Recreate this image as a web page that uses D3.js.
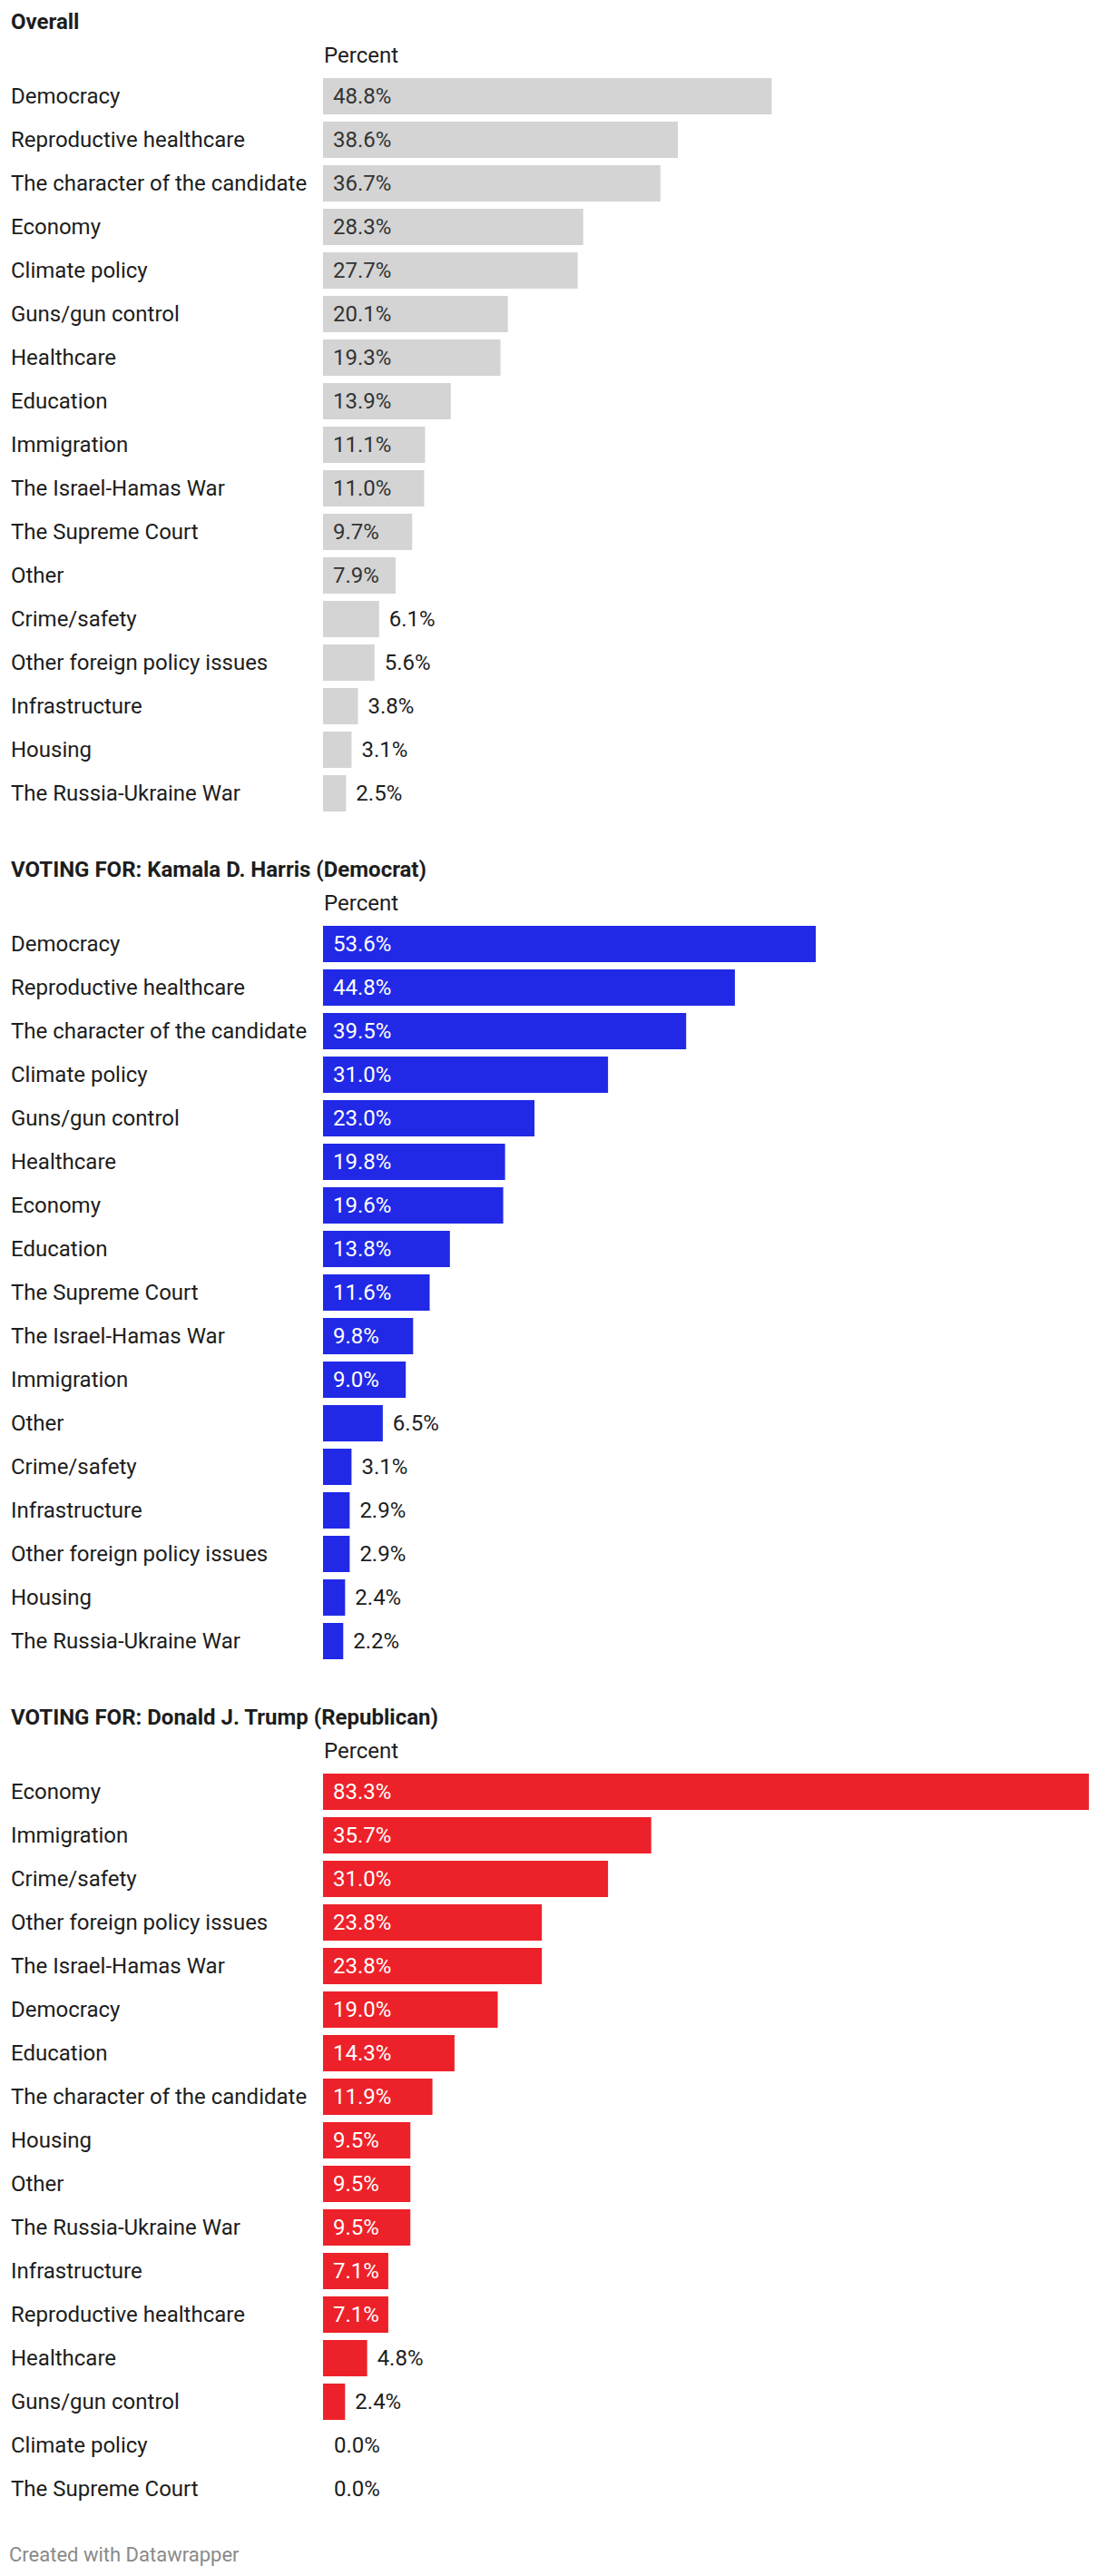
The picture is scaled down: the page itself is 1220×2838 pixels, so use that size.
<!DOCTYPE html>
<html>
<head>
<meta charset="utf-8">
<script src="https://cdn.jsdelivr.net/npm/d3@7"></script>
<style>
  body { margin: 0; background: #fff; }
  svg text { font-family: Roboto, "Noto Sans", sans-serif; }
</style>
</head>
<body>
<svg id="chart" width="1220" height="2838"></svg>
<script>
// ---- Data ----
const overallCategories = ["Democracy","Reproductive healthcare","The character of the candidate","Economy","Climate policy","Guns/gun control","Healthcare","Education","Immigration","The Israel-Hamas War","The Supreme Court","Other","Crime/safety","Other foreign policy issues","Infrastructure","Housing","The Russia-Ukraine War"];
const overallValues = [48.8,38.6,36.7,28.3,27.7,20.1,19.3,13.9,11.1,11.0,9.7,7.9,6.1,5.6,3.8,3.1,2.5];

const harrisCategories = ["Democracy","Reproductive healthcare","The character of the candidate","Climate policy","Guns/gun control","Healthcare","Economy","Education","The Supreme Court","The Israel-Hamas War","Immigration","Other","Crime/safety","Infrastructure","Other foreign policy issues","Housing","The Russia-Ukraine War"];
const harrisValues = [53.6,44.8,39.5,31.0,23.0,19.8,19.6,13.8,11.6,9.8,9.0,6.5,3.1,2.9,2.9,2.4,2.2];

const trumpCategories = ["Economy","Immigration","Crime/safety","Other foreign policy issues","The Israel-Hamas War","Democracy","Education","The character of the candidate","Housing","Other","The Russia-Ukraine War","Infrastructure","Reproductive healthcare","Healthcare","Guns/gun control","Climate policy","The Supreme Court"];
const trumpValues = [83.3,35.7,31.0,23.8,23.8,19.0,14.3,11.9,9.5,9.5,9.5,7.1,7.1,4.8,2.4,0.0,0.0];

const sectionTitles = ["Overall","VOTING FOR: Kamala D. Harris (Democrat)","VOTING FOR: Donald J. Trump (Republican)"];
const columnLabel = "Percent";
const footerText = "Created with Datawrapper";

// ---- Rendering ----
const sections = [
  {title: sectionTitles[0], cats: overallCategories, vals: overallValues, color: "#d4d4d4", inText: "#333"},
  {title: sectionTitles[1], cats: harrisCategories, vals: harrisValues, color: "#2129e6", inText: "#fff"},
  {title: sectionTitles[2], cats: trumpCategories, vals: trumpValues, color: "#ed2129", inText: "#fff"}
];

const svg = d3.select("#chart");
const x = d3.scaleLinear().domain([0, d3.max(trumpValues)]).range([356, 1200]);
const sectionOffset = 934;
const fmt = v => v.toFixed(1) + "%";
const FS = 24;

sections.forEach((s, i) => {
  const g = svg.append("g").attr("transform", `translate(0,${i * sectionOffset})`);
  g.append("text").attr("x", 12).attr("y", 32)
    .attr("font-size", FS).attr("font-weight", 700).attr("fill", "#1d1d1d")
    .text(s.title);
  g.append("text").attr("x", 357).attr("y", 69)
    .attr("font-size", FS).attr("fill", "#1d1d1d").text(columnLabel);

  const y = d3.scaleBand().domain(s.cats).range([86, 894]).paddingInner(8/48).paddingOuter(0);

  const rows = g.selectAll("g.row").data(s.cats.map((c, j) => ({c, v: s.vals[j]})))
    .join("g").attr("class", "row");

  rows.append("text")
    .attr("x", 12).attr("y", d => y(d.c) + y.bandwidth() / 2).attr("dy", "0.35em")
    .attr("font-size", FS).attr("fill", "#1d1d1d").text(d => d.c);

  rows.append("rect")
    .attr("x", x(0)).attr("y", d => y(d.c))
    .attr("width", d => x(d.v) - x(0)).attr("height", y.bandwidth())
    .attr("fill", s.color);

  const inside = d => (x(d.v) - x(0)) > 68;
  rows.append("text")
    .attr("x", d => {
      if (d.v === 0) return x(0) + 12;
      return inside(d) ? x(0) + 11 : x(d.v) + 11;
    })
    .attr("y", d => y(d.c) + y.bandwidth() / 2).attr("dy", "0.35em")
    .attr("font-size", FS)
    .attr("fill", d => inside(d) ? s.inText : "#1d1d1d")
    .text(d => fmt(d.v));
});

svg.append("text").attr("x", 10).attr("y", 2822)
  .attr("font-size", 22).attr("fill", "#8a8a8a").text(footerText);
</script>
</body>
</html>
